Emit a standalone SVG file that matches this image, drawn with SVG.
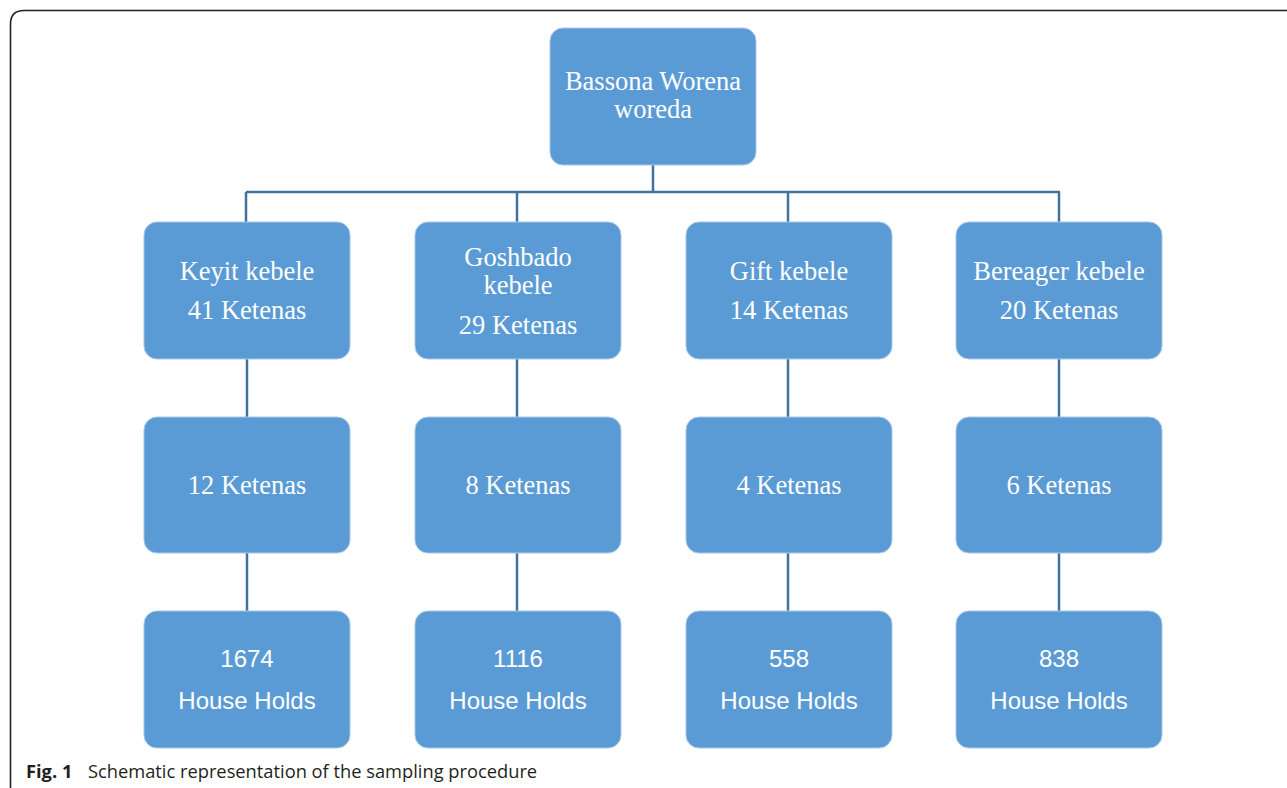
<svg xmlns="http://www.w3.org/2000/svg" width="1287" height="788" viewBox="0 0 1287 788">
<style>
.node{fill:#5B9BD5;stroke:#A9C6E8;stroke-width:1}
.t{font-family:"Liberation Serif","Times New Roman",serif;font-size:26.5px;fill:#fff;text-anchor:middle}
.s{font-family:"Liberation Sans",Arial,sans-serif;font-size:24px;fill:#fff;text-anchor:middle}
.c{stroke:#41719C;stroke-width:2.5;fill:none}
.cap{font-family:"Open Sans","Liberation Sans",sans-serif;font-size:18.3px;fill:#231F20}
</style>
<rect width="1287" height="788" fill="#fff"/>
<path d="M10.5 788 V24 Q10.5 10.5 24 10.5 H1287" fill="none" stroke="#231F20" stroke-width="1.6"/>
<g id="connectors">
<path class="c" d="M653 165 V192 M246 192 H1060 M246 192 V222 M517 192 V222 M788 192 V222 M1059 192 V222"/>
<path class="c" d="M247 359 V417 M517 359 V417 M788 359 V417 M1059 359 V417"/>
<path class="c" d="M247 553 V611 M517 553 V611 M788 553 V611 M1059 553 V611"/>
</g>
<g id="n0"><rect class="node" x="550" y="28" width="206" height="137" rx="13"/><text class="t" x="653" y="90">Bassona Worena</text><text class="t" x="653" y="118">woreda</text></g>
<g id="k1"><rect class="node" x="144" y="222" width="206" height="137" rx="13"/><text class="t" x="247" y="280">Keyit kebele</text><text class="t" x="247" y="319">41 Ketenas</text></g>
<g id="k2"><rect class="node" x="415" y="222" width="206" height="137" rx="13"/><text class="t" x="518" y="266">Goshbado</text><text class="t" x="518" y="294">kebele</text><text class="t" x="518" y="334">29 Ketenas</text></g>
<g id="k3"><rect class="node" x="686" y="222" width="206" height="137" rx="13"/><text class="t" x="789" y="280">Gift kebele</text><text class="t" x="789" y="319">14 Ketenas</text></g>
<g id="k4"><rect class="node" x="956" y="222" width="206" height="137" rx="13"/><text class="t" x="1059" y="280">Bereager kebele</text><text class="t" x="1059" y="319">20 Ketenas</text></g>
<g id="s1"><rect class="node" x="144" y="417" width="206" height="136" rx="13"/><text class="t" x="247" y="494">12 Ketenas</text></g>
<g id="s2"><rect class="node" x="415" y="417" width="206" height="136" rx="13"/><text class="t" x="518" y="494">8 Ketenas</text></g>
<g id="s3"><rect class="node" x="686" y="417" width="206" height="136" rx="13"/><text class="t" x="789" y="494">4 Ketenas</text></g>
<g id="s4"><rect class="node" x="956" y="417" width="206" height="136" rx="13"/><text class="t" x="1059" y="494">6 Ketenas</text></g>
<g id="h1"><rect class="node" x="144" y="611" width="206" height="137" rx="13"/><text class="s" x="247" y="667">1674</text><text class="s" x="247" y="709">House Holds</text></g>
<g id="h2"><rect class="node" x="415" y="611" width="206" height="137" rx="13"/><text class="s" x="518" y="667">1116</text><text class="s" x="518" y="709">House Holds</text></g>
<g id="h3"><rect class="node" x="686" y="611" width="206" height="137" rx="13"/><text class="s" x="789" y="667">558</text><text class="s" x="789" y="709">House Holds</text></g>
<g id="h4"><rect class="node" x="956" y="611" width="206" height="137" rx="13"/><text class="s" x="1059" y="667">838</text><text class="s" x="1059" y="709">House Holds</text></g>
<text class="cap" x="26" y="778"><tspan font-weight="bold">Fig. 1</tspan><tspan x="88">Schematic representation of the sampling procedure</tspan></text>
</svg>
